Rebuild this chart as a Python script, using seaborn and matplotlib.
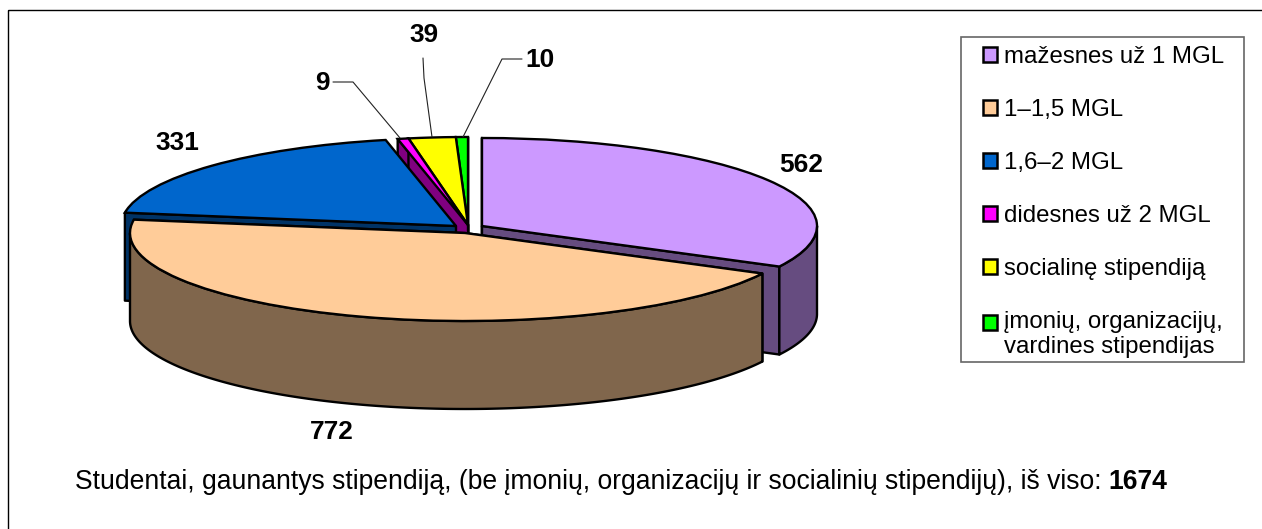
import numpy as np
import matplotlib
matplotlib.use("Agg")
import matplotlib.pyplot as plt
from matplotlib.patches import Polygon, Rectangle
import seaborn as sns

labels = ["mažesnes už 1 MGL", "1–1,5 MGL", "1,6–2 MGL", "didesnes už 2 MGL",
          "socialinę stipendiją", "įmonių, organizacijų,\nvardines stipendijas"]
values = [562, 772, 331, 9, 39, 10]
colors = ["#CC99FF", "#FFCC99", "#0066CC", "#FF00FF", "#FFFF00", "#00FF00"]
side_colors = ["#664C80", "#80664C", "#003366", "#800080", "#808000", "#008000"]
caption_plain = "Studentai, gaunantys stipendiją, (be įmonių, organizacijų ir socialinių stipendijų), iš viso: "
caption_total = "1674"

W, H = 1262, 529
A, B = 335.0, 88.0      # pixel semi-axes of the squashed pie
DEPTH = 88.0
# pixel centre of each slice (the pie is pulled apart)
slice_centres = [(482, 226), (465, 233), (456, 226), (468, 225), (468, 225), (468, 225)]
label_pos = [(801, 165), (332, 432), (177, 143), (322, 83), (424, 35), (540, 60)]
leaders = [None, None, None,
           [(333, 82), (353, 82), (400, 138)],
           [(423, 58), (424, 78), (432, 137)],
           [(522, 59), (502, 59), (463, 137)]]
side_order = [5, 4, 3, 2, 0, 1]
top_order = [5, 4, 3, 2, 0, 1]

sns.set_theme(style="white")
plt.rcParams["font.family"] = ["Liberation Sans", "DejaVu Sans"]
FS_LEGEND = 17.3
FS_LABEL = 18.9
FS_CAPTION = 19.1
LW = 1.7

def X(px):
    return np.asarray(px, dtype=float) / A

def Y(py):
    return -np.asarray(py, dtype=float) / B

fig = plt.figure(figsize=(W / 100, H / 100), dpi=100, facecolor="white")
ax = fig.add_axes([0, 0, 1, 1])

legend_handles = [None] * len(values)
for i in top_order:
    cx, cy = slice_centres[i]
    wedges, _ = ax.pie(values, startangle=90, counterclock=False, radius=1,
                       center=(X(cx), Y(cy)), colors=colors,
                       wedgeprops=dict(edgecolor="black", linewidth=LW))
    w = wedges[i]
    for j, other in enumerate(wedges):
        if j != i:
            other.remove()
    w.set_zorder(40 + top_order.index(i))
    legend_handles[i] = w

for z, i in enumerate(side_order):
    cx, cy = slice_centres[i]
    w = legend_handles[i]
    t1, t2 = w.theta1, w.theta2
    d = DEPTH / B
    c0 = np.array([X(cx), Y(cy)])
    # cut faces of the slice; the back face of the big blue slice is never seen
    faces = (t2,) if i == 2 else (t2, t1)
    for th in faces:
        e = c0 + np.array([np.cos(np.radians(th)), np.sin(np.radians(th))])
        pts = [c0, e, e - [0, d], c0 - [0, d]]
        ax.add_patch(Polygon(pts, closed=True, fc=side_colors[i], ec="black",
                             lw=LW, zorder=10 + 2 * z, joinstyle="round"))
    # outer rim, only where it faces the viewer
    th = np.radians(np.linspace(t1, t2, 400))
    th = th[np.sin(th) <= 0]
    if len(th) > 1:
        rim = c0 + np.column_stack([np.cos(th), np.sin(th)])
        pts = np.vstack([rim, (rim - [0, d])[::-1]])
        ax.add_patch(Polygon(pts, closed=True, fc=side_colors[i], ec="black",
                             lw=LW, zorder=10 + 2 * z + 1, joinstyle="round"))

ax.set_aspect("auto")
ax.set_xlim(0, W / A)
ax.set_ylim(-H / B, 0)
ax.set_xticks([])
ax.set_yticks([])
ax.set_frame_on(False)

# outer frame of the chart area
ax.add_patch(Rectangle((X(8), Y(10)), (W + 40) / A, -(H + 40) / B, fc="none",
                       ec="black", lw=1.0, zorder=1))

# data labels and leader lines
for v, (px, py), lead in zip(values, label_pos, leaders):
    ax.text(X(px), Y(py), str(v), ha="center", va="center", fontsize=FS_LABEL,
            fontweight="bold", color="black", zorder=70)
    if lead is not None:
        xs, ys = zip(*lead)
        ax.plot(X(xs), Y(ys), color="#222222", lw=0.8, zorder=70)

# caption
cap = ax.text(X(75), Y(489), caption_plain, ha="left", va="baseline",
              fontsize=FS_CAPTION, color="black", zorder=70)
fig.canvas.draw()
bb = cap.get_window_extent()
ax.text(X(75 + bb.width), Y(489), caption_total, ha="left", va="baseline",
        fontsize=FS_CAPTION, fontweight="bold", color="black", zorder=70)

# legend box and legend
ax.add_patch(Rectangle((X(961), Y(362)), (1244 - 961) / A, (362 - 37) / B, fc="white",
                       ec="#666666", lw=1.2, zorder=60))
leg = ax.legend(legend_handles, labels, loc="upper left",
                bbox_to_anchor=(983 / W, 1 - 46 / H), bbox_transform=fig.transFigure,
                fontsize=FS_LEGEND, frameon=False, borderaxespad=0, borderpad=0,
                handlelength=0.58, handleheight=0.58, handletextpad=0.30,
                labelspacing=1.29, labelcolor="black")
leg.set_zorder(65)
for h in leg.legend_handles:
    h.set_linewidth(1.8)
last = leg.legend_handles[-1]
last.set_y(last.get_y() + 12.5 * 0.72)

fig.savefig("out.png", dpi=100, facecolor="white")
